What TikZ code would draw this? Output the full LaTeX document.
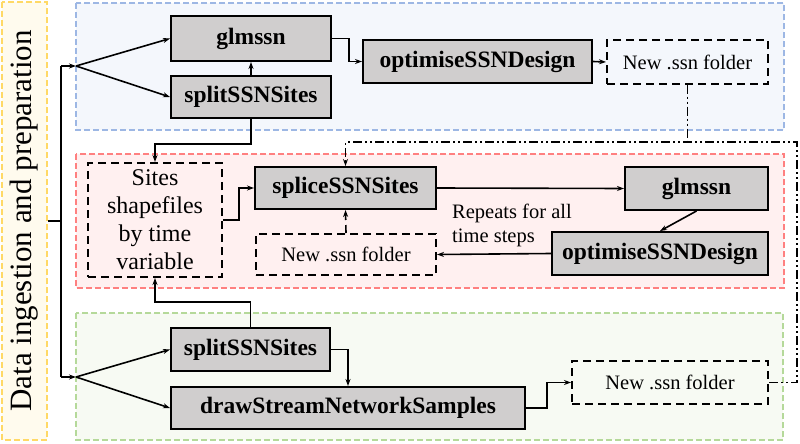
\documentclass[tikz,border=0pt]{standalone}
\usepackage{fontspec}
\setmainfont{Liberation Serif}
\usepackage{xcolor}
\usepackage{tikz}
\usetikzlibrary{positioning,calc,arrows.meta}

\definecolor{procgray}{HTML}{D0CECE}
\definecolor{bluefill}{HTML}{F4F7FC}
\definecolor{blueline}{HTML}{9DB7E4}
\definecolor{redfill}{HTML}{FFF0F0}
\definecolor{redline}{HTML}{FF8080}
\definecolor{greenfill}{HTML}{F7FAF3}
\definecolor{greenline}{HTML}{B5D99A}
\definecolor{yellowfill}{HTML}{FFFBEE}
\definecolor{yellowline}{HTML}{FFD966}

\tikzset{
	proc/.style={draw, line width=2pt, fill=procgray, inner sep=0,
		font=\bfseries\fontsize{23.5}{26}\selectfont},
	store/.style={draw, line width=2pt, dash pattern=on 8pt off 5pt, inner sep=0,
		font=\fontsize{20.5}{24}\selectfont},
	panel/.style={line width=1.3pt, dash pattern=on 6pt off 3pt},
	arr/.style={line width=1.6pt, -{Stealth[length=7pt,width=5pt]}},
	conn/.style={line width=1.6pt},
	loopline/.style={line width=1.6pt, dash pattern=on 9pt off 3pt on 2pt off 3pt on 2pt off 3pt}
}

\begin{document}
\begin{tikzpicture}[x=1pt, y=-1pt]
	\useasboundingbox (0,0) rectangle (800,444);
	% panels
	\draw[panel, draw=blueline, fill=bluefill] (76,3) rectangle (784,130);
	\draw[panel, draw=redline, fill=redfill] (76,154) rectangle (784,288);
	\draw[panel, draw=greenline, fill=greenfill] (76,313) rectangle (783,440);
	\node[panel, draw=yellowline, fill=yellowfill, rotate=90, minimum width=438pt, minimum height=45pt, inner sep=0,
		font=\fontsize{31}{34}\selectfont] (prep) at (24.5,221) {Data ingestion and preparation};

	% top panel
	\node[proc, minimum width=160pt, minimum height=45pt] (glmA) at (251,38.5) {glmssn};
	\node[proc, minimum width=160pt, minimum height=42pt] (splitA) at (251,97) {splitSSNSites};
	\node[proc, minimum width=229pt, minimum height=43pt] (optA) at (477.5,61.5) {optimiseSSNDesign};
	\node[store, minimum width=161pt, minimum height=43pt] (newA) at (687.5,62) {New .ssn folder};

	% middle panel
	\node[store, minimum width=134pt, minimum height=114pt, align=center,
		font=\fontsize{24}{28}\selectfont] (sites) at (155,220) {Sites\\shapefiles\\by time\\variable};
	\node[proc, minimum width=181pt, minimum height=42pt] (splice) at (345.5,188) {spliceSSNSites};
	\node[store, minimum width=180pt, minimum height=41pt] (newB) at (346,254.5) {New .ssn folder};
	\node[proc, minimum width=143pt, minimum height=43pt] (glmB) at (696.5,188.5) {glmssn};
	\node[proc, minimum width=216pt, minimum height=43pt] (optB) at (660,253.5) {optimiseSSNDesign};
	\node[anchor=west, align=left, inner sep=0, font=\fontsize{20.5}{24}\selectfont] (rep) at (452,225) {Repeats for all\\time steps};

	% bottom panel
	\node[proc, minimum width=159pt, minimum height=43pt] (splitC) at (250.5,349.5) {splitSSNSites};
	\node[proc, minimum width=354pt, minimum height=42pt] (draw) at (348,408) {drawStreamNetworkSamples};
	\node[store, minimum width=196pt, minimum height=43pt] (newC) at (670,382.5) {New .ssn folder};

	% trunk
	\coordinate (trunkA) at (61,66);
	\coordinate (trunkM) at (61,221);
	\coordinate (trunkC) at (61,377);
	\coordinate (forkA) at (76,66);
	\coordinate (forkC) at (76,377);
	\coordinate (loopR) at (797,142);
	\draw[conn] (prep.south) -- (trunkM);
	\draw[conn] (trunkA) -- (trunkC);
	\draw[arr] (trunkA) -- (forkA);
	\draw[arr] (trunkC) -- (forkC);
	\draw[arr] (forkA) -- (glmA.west);
	\draw[arr] (forkA) -- (splitA.west);
	\draw[arr] (forkC) -- (splitC.west);
	\draw[arr] (forkC) -- (draw.west);

	\draw[arr] (glmA.east) -- ++(17,0) |- (optA.west);
	\draw[arr] (optA.east) -- (newA.west);
	\draw[arr] (splitA.north) -- (glmA.south);
	\draw[arr] (splitA.south) -- ++(0,25) -| (sites.north);

	\draw[arr] (sites.east) -- ++(16,0) |- (splice.west);
	\draw[arr] (splice.east) -- (glmB.west);
	\draw[arr] (glmB.south) -- (optB.north);
	\draw[arr] (optB.west) -- (newB.east);
	\draw[arr, dash pattern=on 8pt off 5pt] (newB.north) -- (splice.south);

	\draw[arr] (splitC.north) -- ++(0,-25) -| (sites.south);
	\draw[arr] (splitC.east) -| (draw.north);
	\draw[arr] (draw.east) -- ++(21,0) |- (newC.west);

	% loop back
	\draw[loopline] (newA.south) -- (newA.south |- loopR);
	\draw[loopline, -{Stealth[length=7pt,width=5pt]}] (newC.east) -| (loopR) -| (splice.north);
\end{tikzpicture}
\end{document}
